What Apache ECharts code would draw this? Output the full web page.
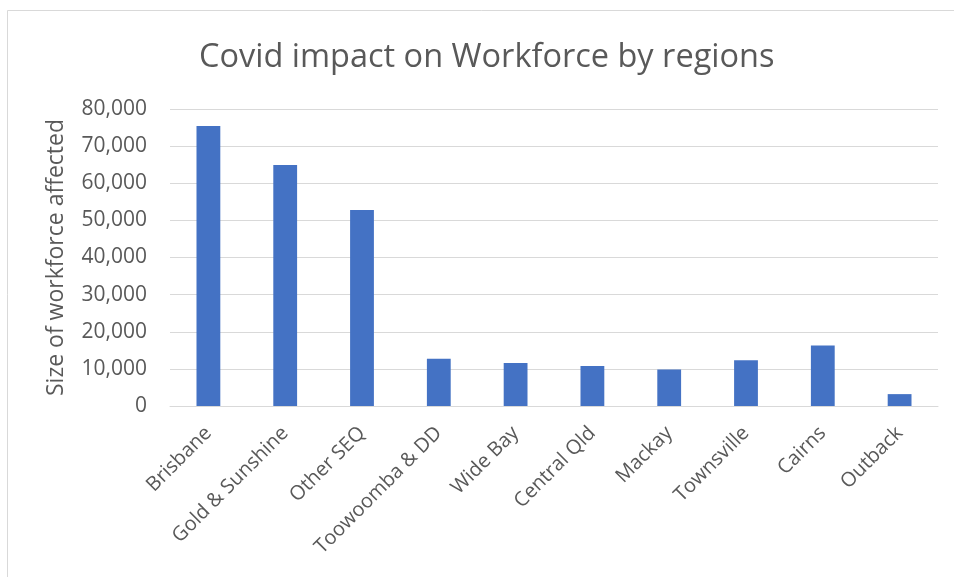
<!DOCTYPE html>
<html>
<head>
<meta charset="utf-8">
<title>Covid impact on Workforce by regions</title>
<script src="https://cdn.jsdelivr.net/npm/echarts@6/dist/echarts.min.js"></script>
<style>
  html, body { margin: 0; padding: 0; background: #fff; }
  #chart { width: 954px; height: 577px; }
</style>
</head>
<body>
<div id="chart"></div>
<script>
// Regions of Queensland and the workforce affected in each
const regions = ['Brisbane', 'Gold & Sunshine', 'Other SEQ', 'Toowoomba & DD', 'Wide Bay',
  'Central Qld', 'Mackay', 'Townsville', 'Cairns', 'Outback'];
const workforceAffected = [75400, 64900, 52800, 12700, 11600, 10800, 9800, 12300, 16300, 3200];
const yTicks = [0, 10000, 20000, 30000, 40000, 50000, 60000, 70000, 80000];

const FONT = 'Open Sans';
const TEXT = '#595959';

const chart = echarts.init(document.getElementById('chart'), null, { renderer: 'canvas' });
chart.setOption({
  animation: false,
  backgroundColor: '#ffffff',
  graphic: [{
    type: 'rect',
    shape: { x: 7.5, y: 10.5, width: 960, height: 600 },
    style: { fill: 'none', stroke: '#d9d9d9', lineWidth: 1 },
    silent: true
  }],
  title: {
    text: 'Covid impact on Workforce by regions',
    left: 194,
    top: 36,
    textStyle: { fontFamily: FONT, fontSize: 32.5, fontWeight: 'normal', color: TEXT }
  },
  grid: { left: 170, right: 16, top: 109, bottom: 171, containLabel: false },
  xAxis: {
    type: 'category',
    data: regions,
    axisLine: { show: true, lineStyle: { color: '#d9d9d9', width: 1 } },
    axisTick: { show: false },
    axisLabel: {
      rotate: 45,
      interval: 0,
      margin: 24,
      fontFamily: FONT,
      fontSize: 20,
      color: TEXT
    }
  },
  yAxis: {
    type: 'value',
    min: yTicks[0],
    max: yTicks[yTicks.length - 1],
    interval: yTicks[1] - yTicks[0],
    name: 'Size of workforce affected',
    nameLocation: 'middle',
    nameRotate: 90,
    nameGap: 102,
    nameTextStyle: { fontFamily: FONT, fontSize: 23, color: TEXT },
    axisLine: { show: false },
    axisTick: { show: false },
    splitLine: { lineStyle: { color: '#d9d9d9', width: 1 } },
    axisLabel: {
      margin: 23,
      fontFamily: FONT,
      fontSize: 21,
      color: TEXT,
      formatter: v => v.toLocaleString('en-US')
    }
  },
  series: [{
    type: 'bar',
    data: workforceAffected,
    barWidth: '31%',
    itemStyle: { color: '#4472c4' }
  }]
});
</script>
</body>
</html>
